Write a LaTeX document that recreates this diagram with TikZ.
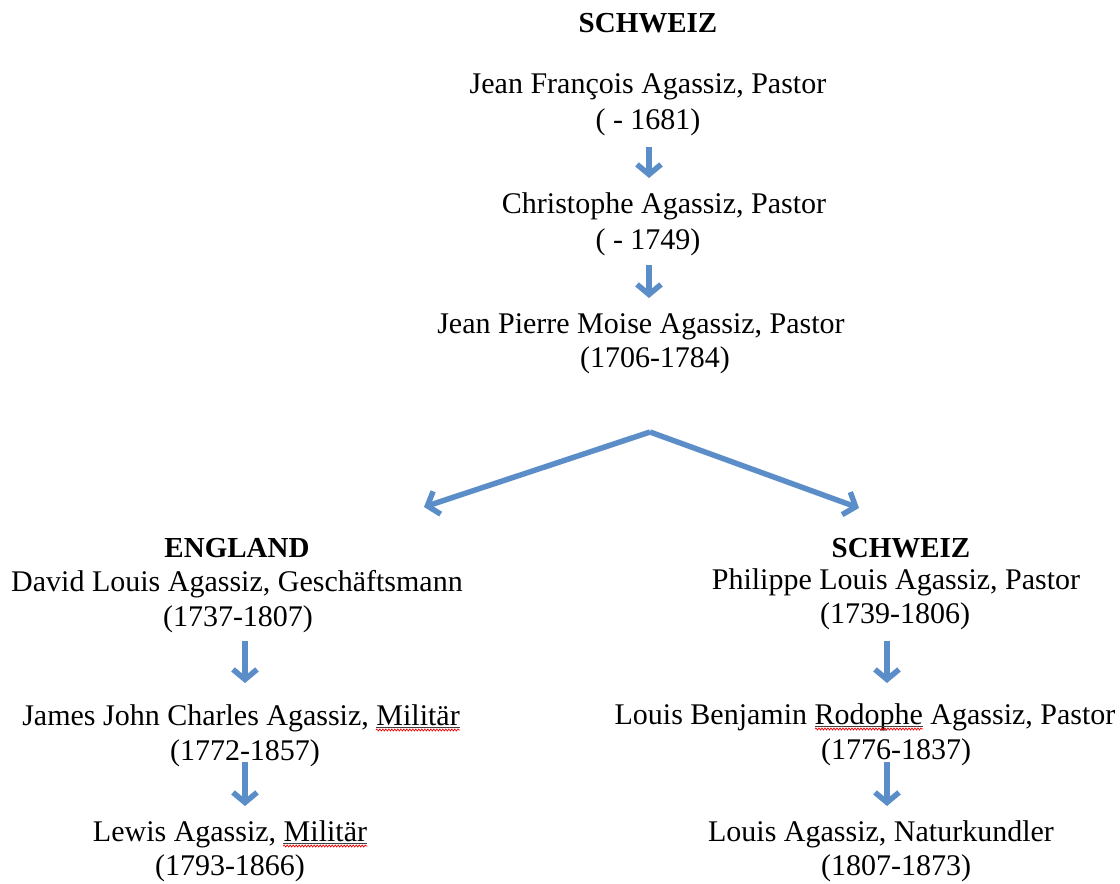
\documentclass[tikz,border=0pt]{standalone}
\usepackage{fontspec}
\setmainfont{Liberation Serif}
\usetikzlibrary{arrows.meta,decorations.pathmorphing}
\definecolor{arr}{HTML}{5B8EC9}
\begin{document}
\begin{tikzpicture}[x=1pt,y=-1pt,
  t/.style={anchor=base,inner sep=0pt,font=\fontsize{30}{34}\selectfont},
  hd/.style={anchor=base,inner sep=0pt,font=\fontsize{29}{34}\selectfont\bfseries},
  arrw/.style={draw=arr,line width=5.5pt,-{Straight Barb[length=10pt,width=24pt]}},
  uline/.style={draw=black!75,line width=0.7pt},
  squig/.style={draw=red,line width=0.7pt,decorate,decoration={snake,amplitude=1pt,segment length=3pt}}]
\useasboundingbox (0,0) rectangle (1120,884);
% top chain
\node[hd] (h1) at (648,32) {SCHWEIZ};
\node[t] (jf) at (648,93) {Jean François Agassiz, Pastor};
\node[t] (jfd) at (648,129) {( - 1681)};
\node[t] (ch) at (664,213) {Christophe Agassiz, Pastor};
\node[t] (chd) at (648,249) {( - 1749)};
\node[t] (jp) at (641,333) {Jean Pierre Moise Agassiz, Pastor};
\node[t] (jpd) at (655,367) {(1706-1784)};
% left branch
\node[hd] (h2) at (237,557) {ENGLAND};
\node[t] (dl) at (237,591) {David Louis Agassiz, Geschäftsmann};
\node[t] (dld) at (238,626) {(1737-1807)};
\node[t] (jj) at (241,725) {James John Charles Agassiz, Militär};
\node[t] (jjd) at (245,760) {(1772-1857)};
\node[t] (lw) at (230,841) {Lewis Agassiz, Militär};
\node[t] (lwd) at (230,875) {(1793-1866)};
% right branch
\node[hd] (h3) at (901,557) {SCHWEIZ};
\node[t] (pl) at (896,589) {Philippe Louis Agassiz, Pastor};
\node[t] (pld) at (895,623) {(1739-1806)};
\node[t] (lb) at (865,724) {Louis Benjamin Rodophe Agassiz, Pastor};
\node[t] (lbd) at (896,759) {(1776-1837)};
\node[t] (la) at (881,841) {Louis Agassiz, Naturkundler};
\node[t] (lad) at (896,875) {(1807-1873)};
% arrow coordinates
\coordinate (a1s) at (649,147);
\coordinate (a1e) at (649,178);
\coordinate (a2s) at (649,265);
\coordinate (a2e) at (649,298);
\coordinate (top) at (650,432);
\coordinate (vl) at (424,507);
\coordinate (vr) at (859,508);
\coordinate (l1s) at (245,641);
\coordinate (l1e) at (245,683);
\coordinate (l2s) at (245,762);
\coordinate (l2e) at (245,806);
\coordinate (r1s) at (887,641);
\coordinate (r1e) at (887,683);
\coordinate (r2s) at (887,762);
\coordinate (r2e) at (887,806);
\draw[arrw] (a1s) -- (a1e);
\draw[arrw] (a2s) -- (a2e);
\draw[arrw] (top) -- (vl);
\draw[arrw] (top) -- (vr);
\draw[arrw] (l1s) -- (l1e);
\draw[arrw] (l2s) -- (l2e);
\draw[arrw] (r1s) -- (r1e);
\draw[arrw] (r2s) -- (r2e);
% spell-check underlines
\draw[uline] ([xshift=-84pt,yshift=-2.5pt]jj.base east) -- ([yshift=-2.5pt]jj.base east);
\draw[squig] ([xshift=-84pt,yshift=-5pt]jj.base east) -- ([yshift=-5pt]jj.base east);
\draw[uline] ([xshift=-84pt,yshift=-2.5pt]lw.base east) -- ([yshift=-2.5pt]lw.base east);
\draw[squig] ([xshift=-84pt,yshift=-5pt]lw.base east) -- ([yshift=-5pt]lw.base east);
\draw[uline] (815,726.5) -- (923,726.5);
\draw[squig] (815,729) -- (923,729);
\end{tikzpicture}
\end{document}
